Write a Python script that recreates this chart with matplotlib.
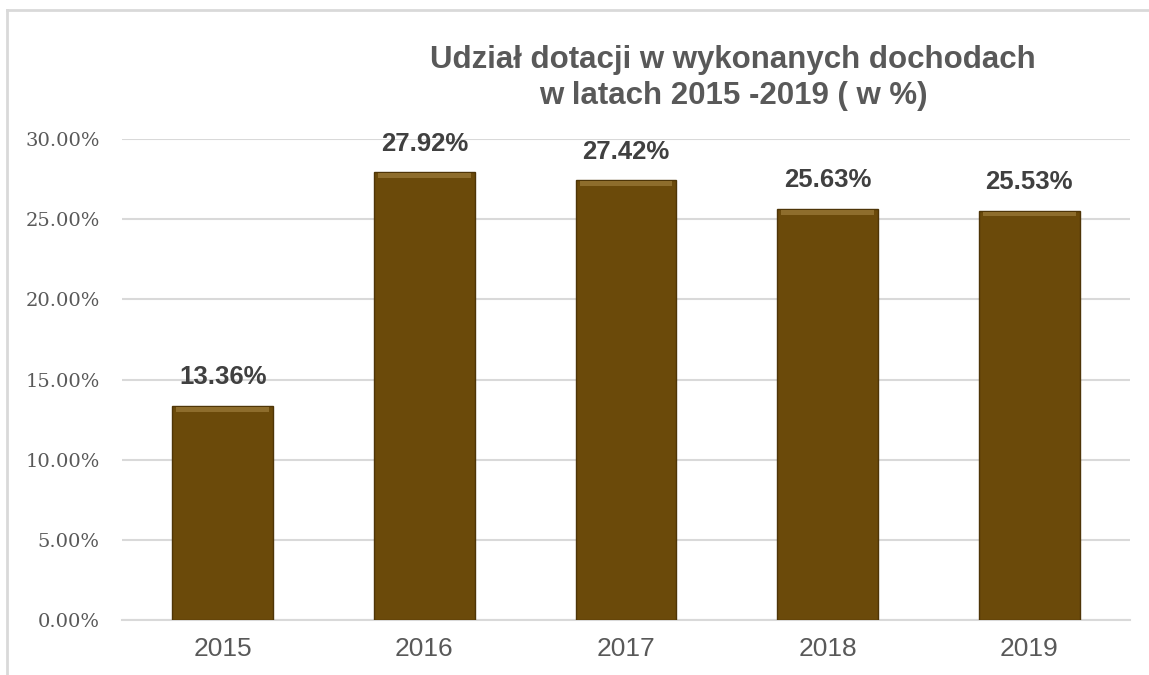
"""Udział dotacji w wykonanych dochodach 2015-2019 - wykres słupkowy."""
import matplotlib
matplotlib.use("Agg")
import matplotlib.pyplot as plt
from matplotlib.lines import Line2D
from matplotlib.ticker import FuncFormatter, MultipleLocator

lata = ["2015", "2016", "2017", "2018", "2019"]
udzial = [13.36, 27.92, 27.42, 25.63, 25.53]
etykiety = ["13.36%", "27.92%", "27.42%", "25.63%", "25.53%"]
tytul = "Udział dotacji w wykonanych dochodach\nw latach 2015 -2019 ( w %)"

BRAZ = "#6B4A0A"
BRAZ_CIEMNY = "#4E3507"
BRAZ_JASNY = "#8E6D2C"
SZARY = "#595959"
SIATKA = "#D9D9D9"

fig = plt.figure(figsize=(11.49, 6.75), dpi=100)
ax = fig.add_axes([0.1062, 0.0815, 0.8773, 0.7125])

pos = range(len(lata))
ax.bar(pos, udzial, width=0.5, color=BRAZ, edgecolor=BRAZ_CIEMNY, linewidth=1.0, zorder=3)
# jaśniejsza faza u góry słupka
ax.bar(pos, [0.3] * len(udzial), bottom=[v - 0.36 for v in udzial], width=0.46,
       color=BRAZ_JASNY, linewidth=0, zorder=4)

for i, v in enumerate(udzial):
    ax.annotate(etykiety[i], (i, v), xytext=(0, 12), textcoords="offset points",
                ha="center", va="bottom", fontsize=18.5, fontweight="bold",
                color="#404040", family="Liberation Sans")

ax.set_ylim(0, 30)
ax.set_xlim(-0.5, len(lata) - 0.5)
ax.yaxis.set_major_locator(MultipleLocator(5))
ax.yaxis.set_major_formatter(FuncFormatter(lambda y, _: f"{y:.2f}%"))
ax.set_xticks(list(pos))
ax.set_xticklabels(lata, fontsize=19, color=SZARY, family="Liberation Sans")
for t in ax.get_yticklabels():
    t.set_family("DejaVu Serif")
    t.set_fontsize(14)
    t.set_color(SZARY)
ax.tick_params(axis="y", length=0, pad=16)
ax.tick_params(axis="x", length=0, pad=12)
ax.grid(axis="y", color=SIATKA, linewidth=1.5, zorder=0)
ax.set_axisbelow(True)
for s in ["top", "right", "left"]:
    ax.spines[s].set_visible(False)
ax.spines["bottom"].set_color(SIATKA)
ax.spines["bottom"].set_linewidth(1.5)

fig.text(0.638, 0.884, tytul, ha="center", va="center", fontsize=22.5, fontweight="bold",
         color=SZARY, family="Liberation Sans", linespacing=1.25)

# ramka wykresu (widoczna tylko z lewej i u góry)
fig.add_artist(Line2D([7 / 1149, 1.0], [1 - 10 / 675] * 2, color=SIATKA, linewidth=2,
                      transform=fig.transFigure))
fig.add_artist(Line2D([7 / 1149] * 2, [0.0, 1 - 10 / 675], color=SIATKA, linewidth=2,
                      transform=fig.transFigure))

fig.savefig("out.png", dpi=100, facecolor="white")
